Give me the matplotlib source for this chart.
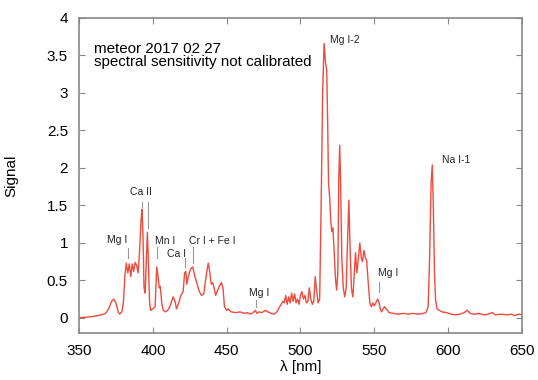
import matplotlib
matplotlib.use("Agg")
from matplotlib import pyplot as plt

plt.rcParams['font.family'] = ['Liberation Sans', 'DejaVu Sans']

# spectrum (wavelength in nm, signal in arbitrary units)
wavelength = [350, 355, 360, 365, 368, 370, 372, 373.5, 375, 376.5, 377.5, 379, 380, 381, 382,
              383, 384, 385, 386, 387, 388, 389, 390, 391, 392, 392.6, 393.3, 394, 394.8, 395.6,
              396.3, 397, 397.8, 398.5, 400, 401.5, 402.6, 403.5, 404.3, 405, 406, 407, 408.5, 410,
              411.5, 413.7, 415, 416, 417.5, 419, 420.5, 421.5, 422.3, 423, 424, 425.5, 427, 428.5,
              430, 431.5, 433, 434.5, 436, 437.5, 438.5, 439.5, 440.5, 441.5, 442.5, 443.5, 445,
              446.5, 447.5, 448.5, 450, 451, 453, 456, 459, 462, 464, 466, 468, 469.5, 470.5, 472,
              474, 476, 478, 480, 482, 484, 486, 488, 489, 490, 491, 492, 493, 494, 495, 496, 497,
              498, 499, 500, 501, 502, 503, 504, 505, 506, 507, 508, 509, 510, 511, 512, 513, 514,
              515, 516, 517, 517.8, 518.5, 519, 519.8, 520.5, 521.2, 522, 522.8, 523.8, 524.5,
              525.3, 526, 526.6, 527.2, 528, 529, 530, 531, 532, 532.8, 533.5, 534.5, 535.5, 536.5,
              537.3, 538.2, 539, 540.2, 541.2, 542, 543, 544, 544.8, 545.8, 547, 548, 549, 550, 551,
              552.3, 553.3, 554, 555, 556, 557, 558, 559, 560, 563, 566, 570, 573, 576, 580, 583,
              585, 586.5, 587.5, 588.5, 589.3, 590, 590.8, 591.5, 592.5, 594, 596, 599, 602, 605,
              608, 611, 613, 615, 618, 621, 624, 627, 630, 632, 636, 640, 643, 645, 648, 650]
signal = [0.0, 0.01, 0.02, 0.04, 0.06, 0.12, 0.22, 0.25, 0.2, 0.08, 0.05, 0.08, 0.2, 0.55, 0.73,
          0.6, 0.72, 0.55, 0.72, 0.62, 0.74, 0.7, 0.6, 0.9, 1.3, 1.45, 1.1, 0.4, 0.33, 0.8,
          1.14, 0.7, 0.2, 0.1, 0.12, 0.15, 0.68, 0.55, 0.4, 0.42, 0.2, 0.1, 0.08, 0.1,
          0.15, 0.28, 0.22, 0.12, 0.2, 0.3, 0.35, 0.6, 0.62, 0.45, 0.55, 0.65, 0.68, 0.55,
          0.45, 0.35, 0.3, 0.32, 0.55, 0.73, 0.62, 0.45, 0.47, 0.4, 0.3, 0.35, 0.42,
          0.47, 0.4, 0.15, 0.1, 0.12, 0.08, 0.07, 0.08, 0.06, 0.07, 0.05, 0.07, 0.1, 0.06, 0.08,
          0.07, 0.1, 0.08, 0.06, 0.05, 0.08, 0.15, 0.22, 0.2, 0.3, 0.18, 0.28, 0.2, 0.33, 0.22, 0.32, 0.2,
          0.25, 0.18, 0.3, 0.35, 0.25, 0.3, 0.2, 0.22, 0.4, 0.25, 0.18, 0.22, 0.55, 0.35, 0.2, 0.25, 1.5,
          3.0, 3.66, 3.4, 3.3, 2.5, 1.8, 1.6, 1.3, 1.15, 1.2, 0.9, 0.5, 0.37,
          0.6, 1.9, 2.3, 1.8, 0.8, 0.4, 0.28, 0.4, 1.1, 1.57, 1.0, 0.4, 0.28, 0.6,
          0.87, 0.6, 0.75, 1.0, 0.8, 0.75, 0.9, 0.8, 0.77, 0.5, 0.2, 0.15, 0.2, 0.16, 0.2,
          0.25, 0.2, 0.12, 0.08, 0.12, 0.15, 0.12, 0.1, 0.07, 0.06, 0.05, 0.06, 0.05, 0.06, 0.05, 0.06,
          0.07, 0.15, 0.8, 1.8, 2.04, 1.5, 0.6, 0.25, 0.12, 0.1, 0.08, 0.07, 0.05, 0.04,
          0.05, 0.07, 0.1, 0.06, 0.05, 0.06, 0.04, 0.05, 0.07, 0.04, 0.05, 0.04, 0.05, 0.03, 0.05, 0.04]

# line identifications: text, text x, text y, alignment, marker x, marker y0, marker y1
line_names = ["Mg I", "Ca II", "Mn I", "Ca I", "Cr I + Fe I", "Mg I", "Mg I-2", "Na I-1", "Mg I"]
name_x = [375.7, 392.0, 401.5, 416.0, 424.5, 471.9, 520.0, 595.6, 552.2]
name_y = [1.04, 1.68, 1.03, 0.85, 1.03, 0.33, 3.7, 2.1, 0.6]
name_ha = ["center", "center", "left", "center", "left", "center", "left", "left", "left"]
mark_x = [383.2, 392.4, 396.9, 402.6, 422.0, 427.0, 469.6, 553.3]
mark_top = [0.93, 1.55, 1.55, 0.95, 0.8, 0.95, 0.24, 0.48]
mark_bot = [0.8, 1.48, 1.2, 0.8, 0.68, 0.73, 0.15, 0.35]

xticks = [350, 400, 450, 500, 550, 600, 650]
yticks = [0, 0.5, 1, 1.5, 2, 2.5, 3, 3.5, 4]
ylabels = ["0", "0.5", "1", "1.5", "2", "2.5", "3", "3.5", "4"]

fig, ax = plt.subplots(figsize=(5.38, 3.80), dpi=100)
fig.subplots_adjust(left=0.147, right=0.970, bottom=0.124, top=0.953)

ax.plot(wavelength, signal, color="#ef4a3c", lw=1.0)

for x, y0, y1 in zip(mark_x, mark_bot, mark_top):
    ax.plot([x, x], [y0, y1], color="#999999", lw=0.8)
for name, x, y, ha in zip(line_names, name_x, name_y, name_ha):
    ax.text(x, y, name, fontsize=7.5, ha=ha, va="center", color="#222222")

ax.text(0.034, 0.889, "meteor 2017 02 27", transform=ax.transAxes, fontsize=10.9, va="baseline")
ax.text(0.034, 0.846, "spectral sensitivity not calibrated", transform=ax.transAxes,
        fontsize=10.9, va="baseline")

ax.set_xlim(350, 650)
ax.set_ylim(-0.2, 4)
ax.set_xticks(xticks)
ax.set_yticks(yticks)
ax.set_yticklabels(ylabels)
ax.tick_params(direction="in", top=True, right=True, length=4, color="#888888",
               labelsize=11, pad=8)
for s in ax.spines.values():
    s.set_color("#888888")
    s.set_linewidth(1.2)

ax.set_xlabel("λ [nm]", fontsize=11)
ax.set_ylabel("Signal", fontsize=11)
ax.xaxis.set_label_coords(0.5, -0.085)
ax.yaxis.set_label_coords(-0.138, 0.5)

fig.savefig("out.png", dpi=100)
